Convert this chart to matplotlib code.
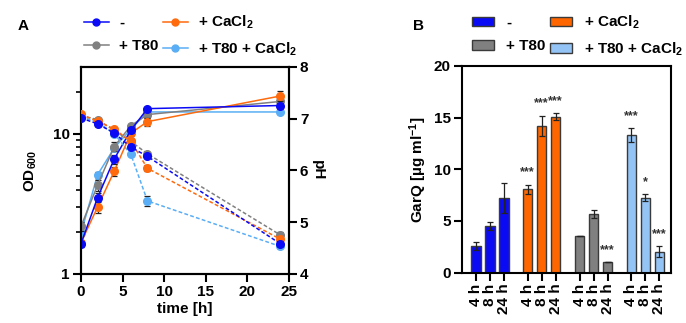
import numpy as np
import matplotlib.pyplot as plt
from matplotlib.patches import Patch
from matplotlib.lines import Line2D
from matplotlib.ticker import NullFormatter, FixedLocator

plt.rcParams['font.family'] = ['Liberation Sans', 'DejaVu Sans']
plt.rcParams['font.weight'] = 'bold'
plt.rcParams['mathtext.fontset'] = 'custom'
plt.rcParams['mathtext.rm'] = 'Liberation Sans:bold'
plt.rcParams['mathtext.bf'] = 'Liberation Sans:bold'
plt.rcParams['mathtext.it'] = 'Liberation Sans:bold'
plt.rcParams['mathtext.default'] = 'rm'

# ---- data: panel A (growth / pH) ----
time = [0, 2, 4, 6, 8, 24]
conditions = ['-', '+ CaCl$_2$', '+ T80', '+ T80 + CaCl$_2$']
line_colors = ['#0A0AF5', '#FF6A0D', '#808080', '#5AAEF5']

od = {
    '-':                [1.64, 3.5, 6.6, 10.6, 15.1, 15.9],
    '+ CaCl$_2$':       [1.67, 3.0, 5.4, 10.1, 12.2, 18.6],
    '+ T80':            [2.18, 4.3, 8.1, 11.4, 13.7, 17.0],
    '+ T80 + CaCl$_2$': [1.95, 5.1, 7.9, 10.8, 14.3, 14.3],
}
od_err = {
    '-':                [0.08, 0.25, 0.5, 0.5, 0.4, 0.6],
    '+ CaCl$_2$':       [0.08, 0.3, 0.4, 0.4, 0.8, 1.6],
    '+ T80':            [0.15, 0.4, 0.6, 0.4, 0.6, 1.2],
    '+ T80 + CaCl$_2$': [0.08, 0.2, 0.3, 0.3, 0.3, 0.3],
}
ph = {
    '-':                [7.01, 6.90, 6.72, 6.45, 6.27, 4.58],
    '+ CaCl$_2$':       [7.08, 6.95, 6.80, 6.56, 6.04, 4.67],
    '+ T80':            [7.06, 6.98, 6.77, 6.56, 6.32, 4.75],
    '+ T80 + CaCl$_2$': [7.04, 6.93, 6.71, 6.31, 5.41, 4.53],
}
ph_err = {
    '-':                [0.02, 0.02, 0.02, 0.02, 0.02, 0.03],
    '+ CaCl$_2$':       [0.02, 0.02, 0.02, 0.02, 0.06, 0.03],
    '+ T80':            [0.02, 0.02, 0.02, 0.04, 0.02, 0.06],
    '+ T80 + CaCl$_2$': [0.02, 0.02, 0.02, 0.02, 0.09, 0.02],
}

# ---- data: panel B (GarQ) ----
sample_times = ['4 h', '8 h', '24 h']
bar_colors = ['#0A0AF5', '#FF6600', '#808080', '#94C4F5']
garq = {
    '-':                [2.58, 4.52, 7.2],
    '+ CaCl$_2$':       [8.07, 14.2, 15.1],
    '+ T80':            [3.55, 5.65, 1.02],
    '+ T80 + CaCl$_2$': [13.33, 7.26, 2.03],
}
garq_err = {
    '-':                [0.4, 0.35, 1.45],
    '+ CaCl$_2$':       [0.45, 1.0, 0.35],
    '+ T80':            [0.02, 0.4, 0.02],
    '+ T80 + CaCl$_2$': [0.65, 0.35, 0.5],
}
stars = {
    '-':                ['', '', ''],
    '+ CaCl$_2$':       ['***', '***', '***'],
    '+ T80':            ['', '', '***'],
    '+ T80 + CaCl$_2$': ['***', '*', '***'],
}

FS = 11

fig = plt.figure(figsize=(6.86, 3.23), dpi=100)

# ---------------- panel A ----------------
axA = fig.add_axes([0.118, 0.152, 0.303, 0.641])
axP = axA.twinx()
order = ['+ T80 + CaCl$_2$', '+ T80', '+ CaCl$_2$', '-']
for name in order:
    c = line_colors[conditions.index(name)]
    z = 3 + order.index(name)
    axA.errorbar(time, od[name], yerr=od_err[name], color=c, marker='o', ms=5.5,
                 lw=1.1, ecolor='#222222', elinewidth=0.9, capsize=2.5, capthick=0.9,
                 zorder=z)
    axP.errorbar(time, ph[name], yerr=ph_err[name], color=c, marker='o', ms=5.5,
                 lw=1.1, ls=(0, (2.5, 1.5)), ecolor='#222222', elinewidth=0.9,
                 capsize=2.5, capthick=0.9, zorder=z)

axA.set_yscale('log')
axA.set_ylim(1, 30)
axA.set_xlim(0, 25)
axA.set_xticks([0, 5, 10, 15, 20, 25])
axA.yaxis.set_major_locator(FixedLocator([1, 10]))
axA.yaxis.set_major_formatter(plt.FuncFormatter(lambda v, p: f'{v:g}'))
axA.yaxis.set_minor_locator(FixedLocator([2, 3, 4, 5, 6, 7, 8, 9, 20]))
axA.yaxis.set_minor_formatter(NullFormatter())
axP.set_ylim(4, 8)
axP.set_yticks([4, 5, 6, 7, 8])
axA.set_xlabel('time [h]', fontsize=FS, fontweight='bold', labelpad=2)
axA.set_ylabel('OD$_{600}$', fontsize=FS, fontweight='bold', labelpad=10)
axP.set_ylabel('pH', fontsize=FS, fontweight='bold', rotation=270, labelpad=12)

for ax in (axA, axP):
    for s in ax.spines.values():
        s.set_linewidth(1.5)
    ax.tick_params(which='major', width=1.5, length=6, labelsize=FS, pad=2)
    ax.tick_params(which='minor', width=1.2, length=3.5)
    for lab in ax.get_xticklabels() + ax.get_yticklabels():
        lab.set_fontweight('bold')

handlesA = [Line2D([], [], color=line_colors[i], marker='o', ms=5, lw=1.1)
            for i in range(4)]
legA = fig.legend([handlesA[0], handlesA[2], handlesA[1], handlesA[3]],
                  [conditions[0], conditions[2], conditions[1], conditions[3]],
                  ncol=2, loc='upper left', bbox_to_anchor=(0.107, 0.99),
                  frameon=False, fontsize=FS, handlelength=1.6,
                  columnspacing=0.3, handletextpad=0.7, labelspacing=0.6,
                  borderaxespad=0.3)
for t in legA.get_texts():
    t.set_fontweight('bold')

fig.text(0.025, 0.907, 'A', fontsize=FS, fontweight='bold')

# ---------------- panel B ----------------
axB = fig.add_axes([0.673, 0.156, 0.305, 0.640])
bw = 0.68
group_gap = 3.7
ticks, ticklabels = [], []
for gi, name in enumerate(conditions):
    xs = [gi * group_gap + k for k in range(3)]
    axB.bar(xs, garq[name], width=bw, color=bar_colors[gi], edgecolor='#3a3a3a',
            linewidth=1.0, zorder=2)
    axB.errorbar(xs, garq[name], yerr=garq_err[name], fmt='none',
                 ecolor='#222222', elinewidth=0.9, capsize=2.5, capthick=0.9, zorder=3)
    for x, v, e, s in zip(xs, garq[name], garq_err[name], stars[name]):
        if s:
            axB.text(x, v + e + 1.15, s, ha='center', va='center',
                     fontsize=9, color='#333333')
    ticks += xs
    ticklabels += sample_times

axB.set_xlim(-1.02, 13.93)
axB.set_ylim(0, 20)
axB.set_yticks([0, 5, 10, 15, 20])
axB.set_xticks(ticks)
axB.set_xticklabels(ticklabels, rotation=90, fontsize=FS, fontweight='bold')
axB.set_ylabel('GarQ [µg ml$^{-1}$]', fontsize=FS, fontweight='bold', labelpad=3)
for s in axB.spines.values():
    s.set_linewidth(1.5)
axB.tick_params(which='major', width=1.5, length=6, labelsize=FS, pad=2)
for lab in axB.get_yticklabels():
    lab.set_fontweight('bold')

handlesB = [Patch(facecolor=bar_colors[i], edgecolor='#3a3a3a', linewidth=1.0)
            for i in range(4)]
legB = fig.legend([handlesB[0], handlesB[2], handlesB[1], handlesB[3]],
                  [conditions[0], conditions[2], conditions[1], conditions[3]],
                  ncol=2, loc='upper left', bbox_to_anchor=(0.672, 0.99),
                  frameon=False, fontsize=FS, handlelength=1.45, handleheight=0.6,
                  columnspacing=0.3, handletextpad=0.8, labelspacing=0.6,
                  borderaxespad=0.3)
for t in legB.get_texts():
    t.set_fontweight('bold')

fig.text(0.602, 0.907, 'B', fontsize=FS, fontweight='bold')

fig.savefig('out.png', dpi=100)
